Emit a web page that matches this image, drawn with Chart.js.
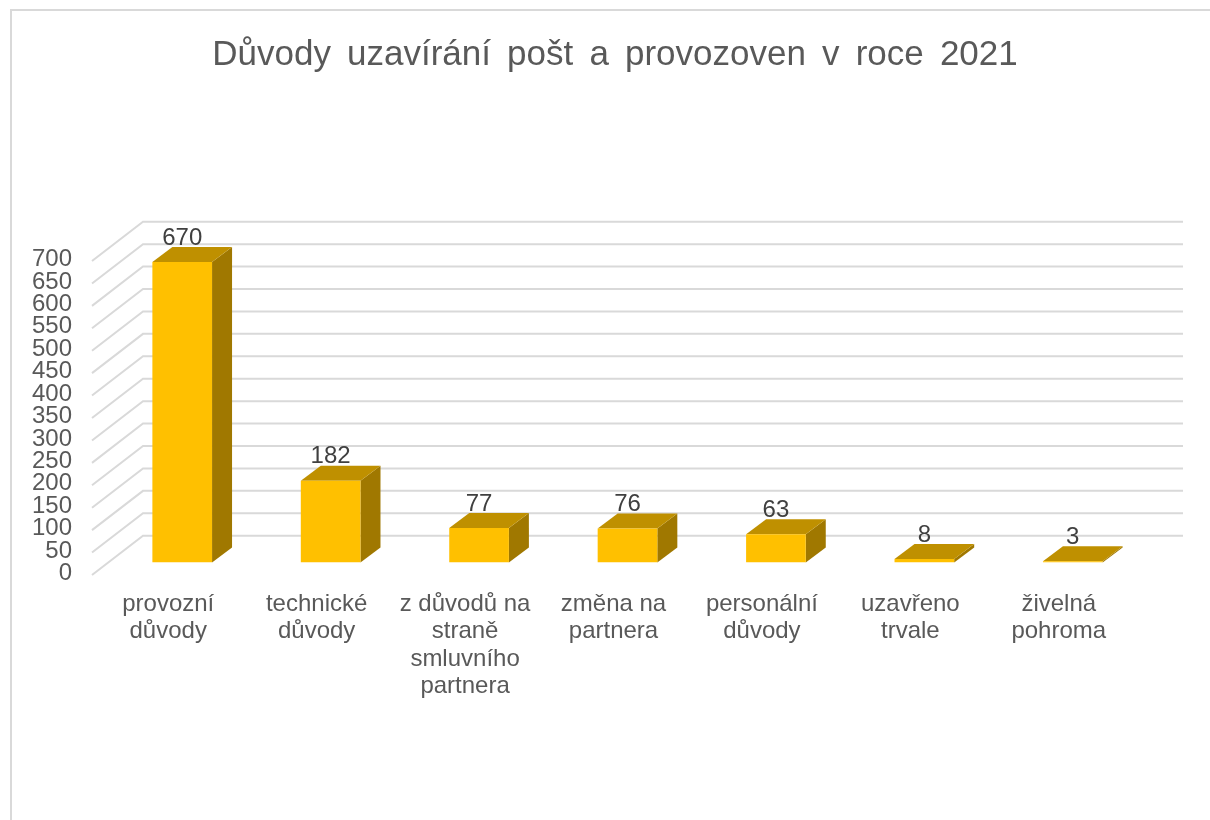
<!DOCTYPE html>
<html>
<head>
<meta charset="utf-8">
<title>Důvody uzavírání pošt a provozoven v roce 2021</title>
<script src="https://cdn.jsdelivr.net/npm/chart.js@4/dist/chart.umd.min.js"></script>
<style>
  html, body { margin: 0; padding: 0; background: #fff; overflow: hidden; }
  #frame { position: absolute; left: 10px; top: 9px; right: 0; bottom: 0; border-top: 2px solid #d9d9d9; border-left: 2px solid #d9d9d9; }
  #myChart { position: absolute; left: 0; top: 0; }
</style>
</head>
<body>
<div id="frame"></div>
<canvas id="myChart" width="1210" height="820"></canvas>
<script>
var chartTitle = "Důvody uzavírání pošt a provozoven v roce 2021";
var xValues = [
  ["provozní", "důvody"],
  ["technické", "důvody"],
  ["z důvodů na", "straně", "smluvního", "partnera"],
  ["změna na", "partnera"],
  ["personální", "důvody"],
  ["uzavřeno", "trvale"],
  ["živelná", "pohroma"]
];
var yValues = [670, 182, 77, 76, 63, 8, 3];
var yTicks = [0, 50, 100, 150, 200, 250, 300, 350, 400, 450, 500, 550, 600, 650, 700];

// Fake 3D: walls, bar sides and value labels, all positioned from the real scales
const fake3d = {
  id: 'fake3d',
  beforeDraw(chart) {
    // tick labels get clipped to the scale box, so open it up to the canvas edge
    chart.scales.y.left = 0;
    // wider word gaps in the title only
    const block = chart.titleBlock;
    if (!block.spaced) {
      const draw = block.draw;
      block.draw = function () {
        chart.ctx.save();
        chart.ctx.wordSpacing = '6.4px';
        draw.call(block);
        chart.ctx.restore();
      };
      block.spaced = true;
    }
  },
  beforeDatasetsDraw(chart) {
    const { ctx, scales: { y } } = chart;
    const right = chart.chartArea.right;
    ctx.save();
    ctx.strokeStyle = '#d9d9d9';
    ctx.lineWidth = 2;
    yTicks.forEach(v => {
      const py = y.getPixelForValue(v);
      ctx.beginPath();
      ctx.moveTo(92, py + 12.5);
      ctx.lineTo(143, py - 26.8);
      ctx.lineTo(right + 36, py - 26.8);
      ctx.stroke();
    });
    // side + top of each bar
    const dx = 20, dy = -15;
    chart.getDatasetMeta(0).data.forEach(bar => {
      const l = bar.x - bar.width / 2, r = bar.x + bar.width / 2;
      ctx.fillStyle = '#a07800';
      ctx.beginPath();
      ctx.moveTo(r, bar.base);
      ctx.lineTo(r + dx, bar.base + dy);
      ctx.lineTo(r + dx, bar.y + dy);
      ctx.lineTo(r, bar.y);
      ctx.closePath();
      ctx.fill();
      ctx.fillStyle = '#bf9000';
      ctx.beginPath();
      ctx.moveTo(l, bar.y);
      ctx.lineTo(l + dx, bar.y + dy);
      ctx.lineTo(r + dx, bar.y + dy);
      ctx.lineTo(r, bar.y);
      ctx.closePath();
      ctx.fill();
    });
    ctx.restore();
  },
  afterDatasetsDraw(chart) {
    const { ctx } = chart;
    ctx.save();
    ctx.fillStyle = '#404040';
    ctx.font = '24px "Liberation Sans"';
    ctx.textAlign = 'center';
    ctx.textBaseline = 'middle';
    chart.getDatasetMeta(0).data.forEach((bar, i) => {
      ctx.fillText(yValues[i], bar.x, bar.y - 24);
    });
    ctx.restore();
  }
};

new Chart(document.getElementById('myChart'), {
  type: 'bar',
  data: {
    labels: xValues,
    datasets: [{
      data: yValues,
      backgroundColor: '#ffc000',
      borderWidth: 0,
      barPercentage: 0.402,
      categoryPercentage: 1
    }]
  },
  options: {
    responsive: false,
    animation: false,
    layout: { padding: { left: 83, right: 63, top: 0, bottom: 0 } },
    plugins: {
      legend: { display: false },
      tooltip: { enabled: false },
      title: {
        display: true,
        text: chartTitle,
        color: '#595959',
        font: { family: '"Liberation Sans"', size: 35, weight: 'normal', lineHeight: 1.2 },
        padding: { top: 34, bottom: 172.5 }
      }
    },
    scales: {
      x: {
        grid: { display: false },
        border: { display: false },
        afterFit(scale) { scale.height = 257.5; },
        ticks: {
          autoSkip: false,
          maxRotation: 0,
          padding: 20,
          labelOffset: -14,
          color: '#595959',
          font: { family: '"Liberation Sans"', size: 24, lineHeight: 1.146 }
        }
      },
      y: {
        min: 0,
        max: 700,
        grid: { display: false },
        border: { display: false },
        afterFit(scale) { scale.width = 25; },
        ticks: {
          stepSize: 50,
          autoSkip: false,
          padding: 28,
          labelOffset: 11,
          color: '#595959',
          font: { family: '"Liberation Sans"', size: 24 }
        }
      }
    }
  },
  plugins: [fake3d]
});
</script>
</body>
</html>
